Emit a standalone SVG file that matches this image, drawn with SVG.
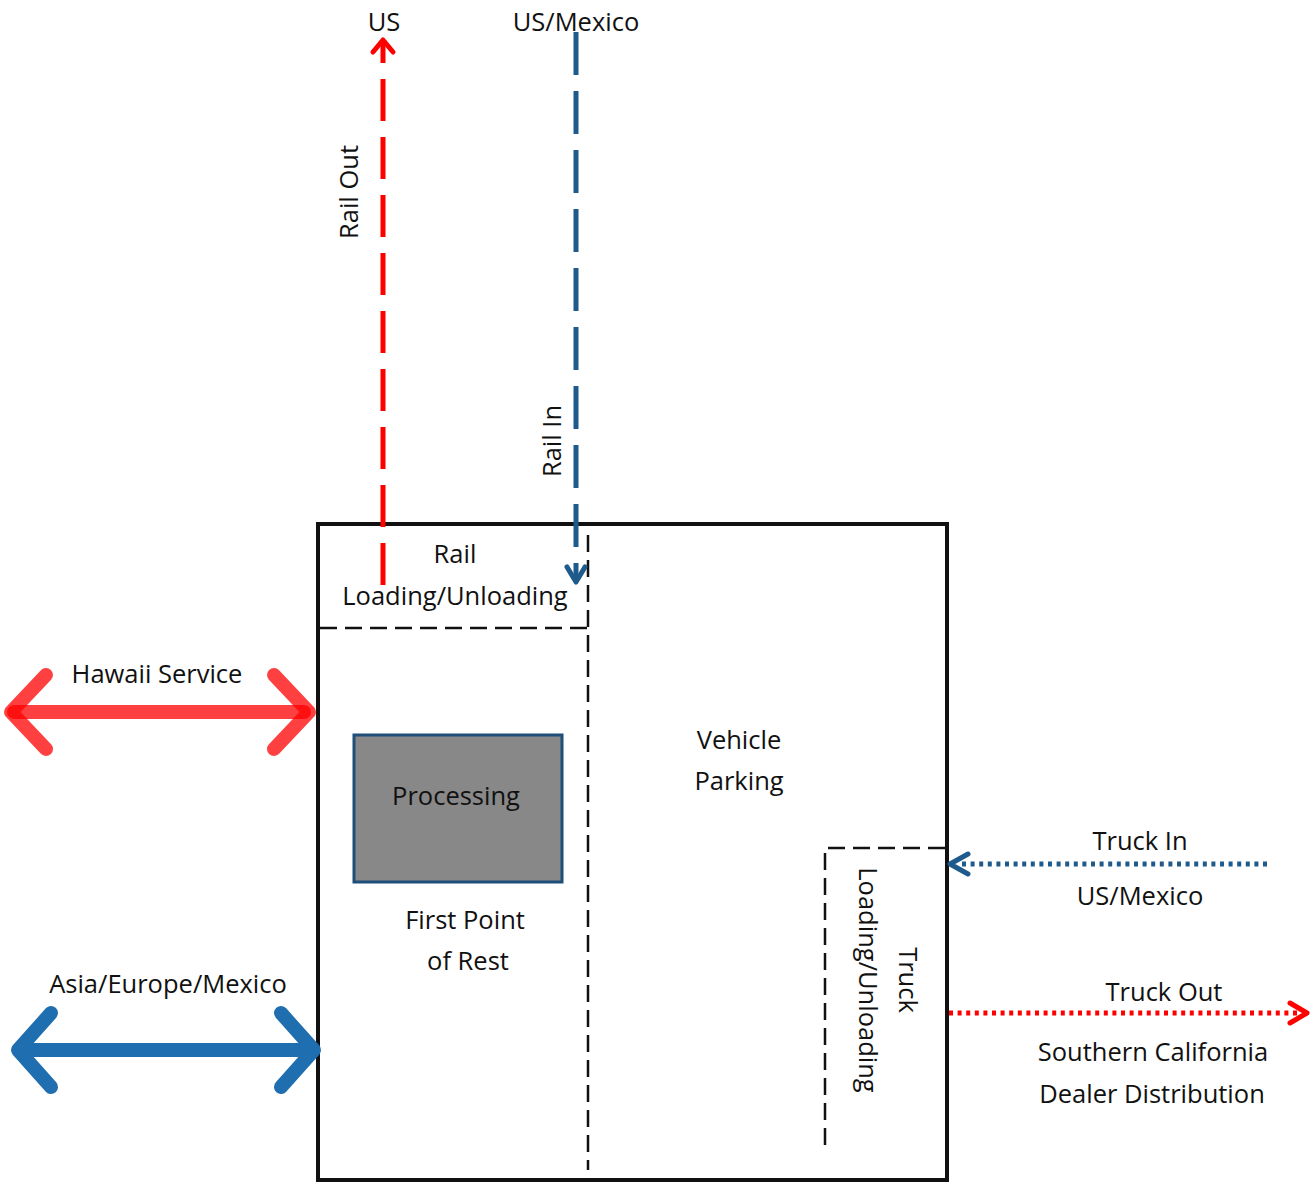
<svg xmlns="http://www.w3.org/2000/svg" width="1316" height="1182" viewBox="0 0 1316 1182">
<style>
text{font-family:"Open Sans","Noto Sans",sans-serif;font-size:25.5px;fill:#111}
.c{text-anchor:middle}
.bd{fill:none;stroke:#111;stroke-width:2.5;stroke-dasharray:17 8}
.red{fill:none;stroke:#ff0000;stroke-width:5}
.blu{fill:none;stroke:#1f5a8c;stroke-width:5}
.haw{fill:none;stroke:#ff0000;stroke-opacity:0.75;stroke-width:14;stroke-linecap:round;stroke-linejoin:round}
.asia{fill:none;stroke:#1f6eb0;stroke-width:14;stroke-linecap:round;stroke-linejoin:round}
</style>
<rect width="1316" height="1182" fill="#fff"/>
<g id="terminal">
<rect x="318" y="524" width="629" height="656" fill="none" stroke="#111" stroke-width="4"/>
</g>
<g id="rail-area">
<path class="bd" d="M320 628 H588"/>
<path class="bd" d="M588 535 V1170"/>
<text class="c" x="455" y="563">Rail</text>
<text class="c" x="455" y="605">Loading/Unloading</text>
</g>
<g id="processing">
<rect x="354" y="735" width="208" height="147" fill="#888888" stroke="#1f4e79" stroke-width="3"/>
<text class="c" x="456" y="805">Processing</text>
<text class="c" x="465" y="929">First Point</text>
<text class="c" x="468" y="970">of Rest</text>
</g>
<g id="vehicle-parking">
<text class="c" x="739" y="749">Vehicle</text>
<text class="c" x="739" y="790">Parking</text>
</g>
<g id="truck-area">
<path class="bd" d="M825 1145 V848 H945"/>
<text class="c" transform="translate(899 980) rotate(90)">Truck</text>
<text class="c" transform="translate(859 980) rotate(90)">Loading/Unloading</text>
</g>
<g id="connectors">
<g id="rail-out">
<path class="red" d="M383 585 V40" stroke-dasharray="42 16"/>
<path class="red" d="M373 52 L383 40 L393 52" stroke-linecap="round" stroke-linejoin="round"/>
<text class="c" x="384" y="31">US</text>
<text class="c" transform="translate(358 192) rotate(-90)">Rail Out</text>
</g>
<g id="rail-in">
<path class="blu" d="M576 32 V580" stroke-dasharray="43 16"/>
<path class="blu" d="M567 567 L576 582 L585 567" stroke-linecap="round" stroke-linejoin="round"/>
<text class="c" x="576" y="31">US/Mexico</text>
<text class="c" transform="translate(561 441) rotate(-90)">Rail In</text>
</g>
<g id="hawaii">
<path class="haw" d="M14 712 H304"/>
<path class="haw" d="M46 675 L11 712 L46 749"/>
<path class="haw" d="M274 675 L309 712 L274 749"/>
<text class="c" x="157" y="683">Hawaii Service</text>
</g>
<g id="asia">
<path class="asia" d="M20 1050 H312"/>
<path class="asia" d="M51 1013 L18 1050 L51 1087"/>
<path class="asia" d="M281 1013 L314 1050 L281 1087"/>
<text class="c" x="168" y="993">Asia/Europe/Mexico</text>
</g>
<g id="truck-in">
<path class="blu" d="M1267 864 H958" stroke-width="4" stroke-dasharray="4 4.6"/>
<path class="blu" d="M968 854 L950 864 L968 874" stroke-width="4.5" stroke-linecap="round" stroke-linejoin="round"/>
<text class="c" x="1140" y="850">Truck In</text>
<text class="c" x="1140" y="905">US/Mexico</text>
</g>
<g id="truck-out">
<path class="red" d="M949 1013 H1300" stroke-width="4" stroke-dasharray="4 4.6"/>
<path class="red" d="M1290 1003 L1307 1013 L1290 1023" stroke-width="4.5" stroke-linecap="round" stroke-linejoin="round"/>
<text class="c" x="1164" y="1001">Truck Out</text>
<text class="c" x="1153" y="1061">Southern California</text>
<text class="c" x="1152" y="1103">Dealer Distribution</text>
</g>
</g>
</svg>
